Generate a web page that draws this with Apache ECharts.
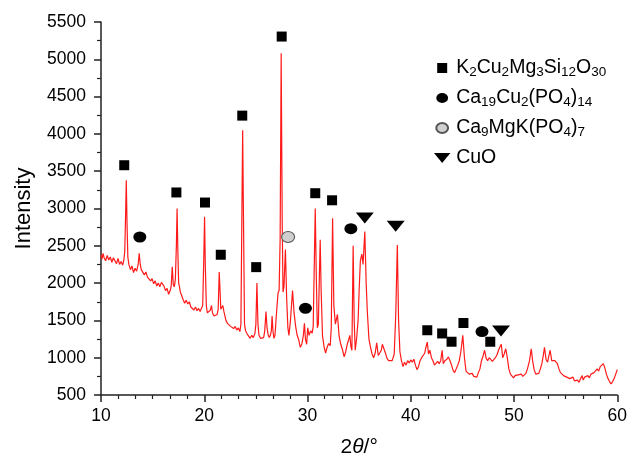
<!DOCTYPE html>
<html>
<head>
<meta charset="utf-8">
<script src="https://cdn.jsdelivr.net/npm/echarts@6/dist/echarts.min.js"></script>
<style>
html,body{margin:0;padding:0;background:#fff;}
#xrd{width:630px;height:463px;}
</style>
</head>
<body>
<div id="xrd"></div>
<script>
// measured scan, [2theta, intensity]
var scanData = [
[10.0,2380],[10.1,2320],[10.2,2400],[10.3,2340],[10.45,2300],[10.6,2370],[10.75,2310],[10.9,2350],[11.05,2280],[11.2,2340],
[11.35,2300],[11.5,2260],[11.65,2330],[11.8,2250],[11.95,2290],[12.1,2240],[12.2,2300],[12.3,2420],[12.38,2900],[12.45,3380],
[12.52,2800],[12.6,2350],[12.7,2250],[12.85,2180],[13.0,2230],[13.15,2140],[13.3,2200],[13.45,2160],[13.6,2250],[13.7,2400],
[13.8,2250],[13.9,2180],[14.05,2200],[14.2,2110],[14.35,2150],[14.5,2080],[14.65,2100],[14.8,2030],[14.95,2060],[15.1,1990],
[15.25,2030],[15.4,1960],[15.55,2000],[15.7,1950],[15.85,2010],[16.0,2030],[16.1,1960],[16.25,1900],[16.4,1930],[16.55,1850],
[16.7,1900],[16.8,1960],[16.9,2220],[17.0,1980],[17.1,1950],[17.2,2050],[17.3,2500],[17.37,3000],[17.44,2450],[17.52,2000],
[17.6,1950],[17.7,1870],[17.8,1840],[17.95,1780],[18.1,1730],[18.25,1770],[18.4,1720],[18.55,1750],[18.7,1680],[18.85,1700],
[19.0,1640],[19.15,1680],[19.3,1630],[19.45,1660],[19.6,1620],[19.75,1670],[19.85,1700],[19.95,2300],[20.03,2890],[20.1,2250],
[20.2,1700],[20.3,1600],[20.45,1580],[20.6,1640],[20.7,1700],[20.8,1600],[20.95,1560],[21.1,1540],[21.25,1580],[21.35,1650],
[21.45,2150],[21.53,1900],[21.6,1650],[21.7,1640],[21.8,1700],[21.9,1620],[22.0,1560],[22.1,1500],[22.25,1460],[22.4,1480],
[22.55,1420],[22.7,1440],[22.85,1390],[23.0,1420],[23.15,1370],[23.3,1400],[23.45,1350],[23.55,1450],[23.65,3000],[23.72,4050],
[23.79,3000],[23.9,1450],[24.0,1360],[24.15,1320],[24.3,1290],[24.45,1260],[24.6,1300],[24.75,1270],[24.9,1320],[25.0,1450],
[25.1,2000],[25.2,1450],[25.3,1300],[25.45,1260],[25.6,1280],[25.75,1270],[25.85,1350],[25.98,1620],[26.08,1400],[26.2,1300],
[26.3,1270],[26.4,1300],[26.5,1360],[26.57,1560],[26.66,1350],[26.75,1260],[26.85,1300],[26.95,1500],[27.05,1700],[27.15,1870],
[27.25,1900],[27.35,2600],[27.45,5080],[27.55,2800],[27.63,1880],[27.72,1950],[27.86,2450],[27.98,1800],[28.1,1400],[28.2,1300],
[28.35,1500],[28.55,1900],[28.7,1600],[28.85,1420],[29.0,1300],[29.15,1240],[29.3,1140],[29.45,1180],[29.6,1300],[29.7,1460],
[29.8,1250],[29.92,1180],[30.02,1400],[30.15,1300],[30.3,1360],[30.45,1330],[30.55,1420],[30.65,2200],[30.75,3000],[30.85,2100],
[30.95,1400],[31.05,1450],[31.15,2100],[31.23,2580],[31.32,1900],[31.45,1300],[31.6,1150],[31.75,1060],[31.9,1140],[32.05,1190],
[32.2,1160],[32.3,1400],[32.43,2870],[32.55,1700],[32.7,1450],[32.9,1580],[33.05,1300],[33.2,1190],[33.4,1100],[33.55,1010],
[33.7,1080],[33.85,1180],[34.0,1250],[34.1,1300],[34.2,1150],[34.3,1100],[34.42,2500],[34.52,1500],[34.62,1100],[34.75,1250],
[34.9,1500],[35.0,1900],[35.12,2300],[35.26,2390],[35.38,2250],[35.55,2690],[35.68,2000],[35.8,1600],[35.95,1250],[36.1,1140],
[36.25,1050],[36.4,1000],[36.55,1060],[36.7,1200],[36.85,1030],[37.0,1020],[37.15,1100],[37.25,1180],[37.4,1120],[37.55,1060],
[37.7,990],[37.85,960],[38.0,980],[38.2,960],[38.4,1050],[38.55,1600],[38.7,2510],[38.82,1500],[38.95,1080],[39.1,960],
[39.25,880],[39.4,940],[39.55,900],[39.7,960],[39.85,930],[40.0,970],[40.15,940],[40.3,980],[40.45,900],[40.6,840],
[40.75,880],[40.9,960],[41.05,1000],[41.2,980],[41.35,1060],[41.45,1130],[41.6,1210],[41.72,1050],[41.85,1100],[42.0,1000],
[42.15,960],[42.3,900],[42.45,880],[42.6,950],[42.75,920],[42.9,960],[43.04,1100],[43.15,920],[43.3,960],[43.5,980],
[43.65,1010],[43.8,960],[43.95,900],[44.1,830],[44.25,800],[44.4,850],[44.55,900],[44.7,960],[44.85,1080],[45.04,1300],
[45.2,1000],[45.35,820],[45.5,800],[45.65,780],[45.8,760],[45.95,790],[46.1,750],[46.25,770],[46.4,740],[46.55,800],
[46.7,850],[46.85,960],[47.0,1020],[47.15,1100],[47.3,990],[47.45,960],[47.6,1000],[47.77,1010],[47.9,950],[48.05,940],
[48.2,1000],[48.35,1040],[48.5,1100],[48.65,1150],[48.77,1180],[48.9,1000],[49.05,1050],[49.2,1120],[49.35,1000],[49.5,850],
[49.65,780],[49.8,760],[49.95,730],[50.1,760],[50.25,740],[50.4,770],[50.55,750],[50.7,780],[50.85,750],[51.0,770],
[51.15,790],[51.3,850],[51.5,960],[51.67,1120],[51.8,960],[51.95,840],[52.1,780],[52.25,760],[52.4,790],[52.55,850],
[52.7,920],[52.85,1040],[52.95,1140],[53.1,980],[53.25,940],[53.4,1040],[53.5,1100],[53.65,960],[53.8,940],[53.95,960],
[54.05,980],[54.2,920],[54.35,850],[54.5,800],[54.65,790],[54.8,760],[54.95,780],[55.1,740],[55.25,760],[55.4,720],
[55.55,700],[55.7,740],[55.85,690],[56.0,680],[56.15,700],[56.3,670],[56.45,720],[56.6,760],[56.7,700],[56.85,740],
[57.0,720],[57.15,760],[57.3,730],[57.45,780],[57.6,760],[57.75,800],[57.9,780],[58.05,850],[58.2,820],[58.35,880],
[58.5,860],[58.65,920],[58.8,860],[58.95,780],[59.1,720],[59.25,680],[59.4,650],[59.55,680],[59.7,720],[59.85,780],
[60.0,840]
];

// phase markers, [2theta, marker height]
var markK2Cu2 = [[12.25,3580],[17.3,3215],[20.07,3080],[21.6,2380],[23.68,4245],[25.03,2214],[27.5,5305],[30.75,3205],[32.38,3110],
                 [41.6,1368],[43.04,1325],[43.95,1214],[45.1,1465],[47.7,1214]];
var markCa19 = [[13.76,2618],[29.8,1662],[34.2,2730],[46.9,1351]];
var markCa9 = [[28.12,2618]];
var markCuO = [[35.55,2872],[38.54,2763],[48.74,1359]];

var phaseNames = ['K2Cu2Mg3Si12O30','Ca19Cu2(PO4)14','Ca9MgK(PO4)7','CuO'];
var phaseLabels = {
    'K2Cu2Mg3Si12O30': 'K{s|2}Cu{s|2}Mg{s|3}Si{s|12}O{s|30}',
    'Ca19Cu2(PO4)14': 'Ca{s|19}Cu{s|2}(PO{s|4}){s|14}',
    'Ca9MgK(PO4)7': 'Ca{s|9}MgK(PO{s|4}){s|7}',
    'CuO': 'CuO'
};

var squareIcon = 'path://M0,0L10,0L10,10L0,10Z';
var ellipseIcon = 'path://M0,5.5A6.5,5.5 0 1,0 13,5.5A6.5,5.5 0 1,0 0,5.5Z';
var downTriIcon = 'path://M0,0L18,0L9,11Z';

var xrdChart = echarts.init(document.getElementById('xrd'));
var fontName = '"Liberation Sans", Arial, Helvetica, sans-serif';

var option = {
    animation: false,
    textStyle: {fontFamily: fontName},
    grid: {left: 101, right: 11, top: 22, bottom: 61},
    legend: {
        orient: 'vertical',
        left: 429,
        top: 52,
        itemWidth: 18,
        itemHeight: 10,
        itemGap: 8,
        data: [
            {name: phaseNames[0], icon: squareIcon},
            {name: phaseNames[1], icon: ellipseIcon},
            {name: phaseNames[2], icon: ellipseIcon},
            {name: phaseNames[3], icon: downTriIcon}
        ],
        formatter: function (name) { return phaseLabels[name]; },
        textStyle: {
            fontSize: 19.5, color: '#000', fontFamily: fontName, lineHeight: 22,
            rich: {
                s: {fontSize: 13.5, color: '#000', fontFamily: fontName, lineHeight: 10, verticalAlign: 'bottom'}
            }
        }
    },
    xAxis: {
        type: 'value',
        min: 10, max: 60, interval: 10,
        name: '2{i|θ}/°',
        nameLocation: 'middle',
        nameGap: 42,
        nameTextStyle: {
            fontSize: 21, color: '#000', fontFamily: fontName,
            rich: {i: {fontSize: 21, fontStyle: 'italic', color: '#000', fontFamily: fontName}}
        },
        axisLine: {lineStyle: {color: '#222', width: 1.5}},
        axisTick: {length: 7, lineStyle: {color: '#222', width: 1.5}},
        minorTick: {show: true, splitNumber: 6, length: 4, lineStyle: {color: '#222', width: 1.2}},
        axisLabel: {fontSize: 17.5, color: '#000', margin: 12},
        splitLine: {show: false}
    },
    yAxis: {
        type: 'value',
        min: 500, max: 5500, interval: 500,
        name: 'Intensity',
        nameLocation: 'middle',
        nameGap: 66,
        nameTextStyle: {fontSize: 22, color: '#000', fontFamily: fontName},
        axisLine: {show: true, lineStyle: {color: '#222', width: 1.5}},
        axisTick: {show: true, length: 7, lineStyle: {color: '#222', width: 1.5}},
        minorTick: {show: true, splitNumber: 2, length: 4, lineStyle: {color: '#222', width: 1.2}},
        axisLabel: {fontSize: 17.5, color: '#000', margin: 15, formatter: function (v) { return String(v); }},
        splitLine: {show: false}
    },
    series: [
        {
            name: 'scan',
            type: 'line',
            data: scanData,
            symbol: 'none',
            silent: true,
            lineStyle: {color: '#ff1a1a', width: 1.2},
            z: 1
        },
        {
            name: phaseNames[0],
            type: 'scatter',
            data: markK2Cu2,
            symbol: squareIcon,
            symbolSize: 10,
            itemStyle: {color: '#000', opacity: 1},
            z: 5
        },
        {
            name: phaseNames[1],
            type: 'scatter',
            data: markCa19,
            symbol: ellipseIcon,
            symbolSize: [13, 11],
            itemStyle: {color: '#000', opacity: 1},
            z: 5
        },
        {
            name: phaseNames[2],
            type: 'scatter',
            data: markCa9,
            symbol: ellipseIcon,
            symbolSize: [13, 11],
            itemStyle: {color: '#cfcfcf', borderColor: '#555', borderWidth: 1, opacity: 1},
            z: 5
        },
        {
            name: phaseNames[3],
            type: 'scatter',
            data: markCuO,
            symbol: downTriIcon,
            symbolSize: [18, 11],
            itemStyle: {color: '#000', opacity: 1},
            z: 5
        }
    ]
};
xrdChart.setOption(option);
</script>
</body>
</html>
